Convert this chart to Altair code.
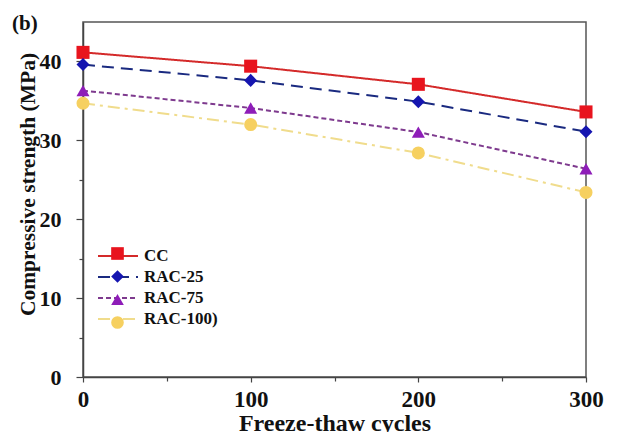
import json
import altair as alt
import pandas as pd

cycles = [0, 100, 200, 300]
series_names = ["CC", "RAC-25", "RAC-75", "RAC-100)"]
cc = [41.15, 39.4, 37.1, 33.6]
rac25 = [39.6, 37.6, 34.9, 31.1]
rac75 = [36.3, 34.1, 31.05, 26.4]
rac100 = [34.7, 32.0, 28.4, 23.4]

line_colors = ["#d42a2a", "#1a2a80", "#7e3a8e", "#f0dc8c"]
marker_colors = ["#e8141e", "#1515b0", "#8e1db8", "#f6d060"]
dashes = [[1, 0], [12, 7], [5, 3], [12, 5, 3, 5]]
shapes = ["square", "diamond", "triangle-up", "circle"]

rows = []
for name, vals in zip(series_names, [cc, rac25, rac75, rac100]):
    for c, v in zip(cycles, vals):
        rows.append({"cycles": c, "strength": v, "series": name, "series_pt": name})
df = pd.DataFrame(rows)

FONT = "Liberation Serif"

x_enc = alt.X(
    "cycles:Q",
    scale=alt.Scale(domain=[0, 300], nice=False),
    axis=alt.Axis(
        values=[0, 50, 100, 150, 200, 250, 300],
        labelExpr="datum.value % 100 === 0 ? datum.label : ''",
        tickSize={"condition": {"test": "datum.value % 100 === 0", "value": 5}, "value": 4},
        title="Freeze-thaw cycles",
        titlePadding=0,
        labelPadding=6,
        labelFontSize=23,
        titleFontSize=24,
        labelFlush=False,
        grid=False,
    ),
)
y_enc = alt.Y(
    "strength:Q",
    scale=alt.Scale(domain=[0, 45], nice=False),
    axis=alt.Axis(
        values=[0, 5, 10, 15, 20, 25, 30, 35, 40],
        labelExpr="datum.value % 10 === 0 ? datum.label : ''",
        tickSize={"condition": {"test": "datum.value % 10 === 0", "value": 7}, "value": 4},
        title="Compressive strength (MPa)",
        titleX=-55,
        titleY=162,
        titleBaseline="middle",
        labelPadding=15,
        labelFontSize=22,
        titleFontSize=21.5,
        labelFlush=False,
        grid=False,
    ),
)

line_legend = alt.Legend(
    title=None,
    orient="none",
    legendX=24,
    legendY=223,
    symbolType="M-2,0H2",
    symbolSize=400,
    symbolStrokeWidth=2,
    labelFont=FONT,
    labelFontSize=17,
    labelFontWeight="bold",
    labelColor="#111",
    labelOffset=15,
    rowPadding=2,
    padding=0,
)

fill_expr = "{}[indexof({}, datum.value)]".format(
    json.dumps(marker_colors), json.dumps(series_names)
)

point_legend = alt.Legend(
    title=None,
    orient="none",
    legendX=26,
    legendY=223,
    symbolSize=160,
    symbolStrokeWidth=0,
    symbolOpacity=1,
    symbolFillColor=alt.ExprRef(fill_expr),
    labelExpr="''",
    labelFont=FONT,
    labelFontSize=17,
    labelOffset=0,
    rowPadding=5,
    padding=0,
)

lines = alt.Chart(df).mark_line(strokeWidth=2).encode(
    x=x_enc,
    y=y_enc,
    stroke=alt.Stroke(
        "series:N",
        scale=alt.Scale(domain=series_names, range=line_colors),
        legend=line_legend,
    ),
    strokeDash=alt.StrokeDash(
        "series:N",
        scale=alt.Scale(domain=series_names, range=dashes),
        legend=line_legend,
    ),
)

points = alt.Chart(df).mark_point(filled=True, opacity=1, size=170).encode(
    x="cycles:Q",
    y="strength:Q",
    color=alt.Color(
        "series_pt:N",
        sort=series_names,
        scale=alt.Scale(range=marker_colors),
        legend=None,
    ),
    shape=alt.Shape(
        "series_pt:N",
        sort=series_names,
        scale=alt.Scale(range=shapes),
        legend=point_legend,
    ),
)

label_df = pd.DataFrame({"t": ["(b)"]})
panel_label = alt.Chart(label_df).mark_text(
    font=FONT, fontSize=21, fontWeight="bold", align="left", baseline="middle", color="#111"
).encode(x=alt.value(-71), y=alt.value(2), text="t:N")

chart = (
    alt.layer(lines, points, panel_label)
    .properties(
        width=503,
        height=355,
        autosize=alt.AutoSizeParams(type="none"),
        padding={"left": 75, "top": 14, "right": 25, "bottom": 55},
    )
    .configure_view(stroke="#555", strokeWidth=1.5)
    .configure_axis(
        labelFont=FONT,
        labelFontWeight="bold",
        labelColor="#111",
        titleFont=FONT,
        titleFontWeight="bold",
        titleColor="#111",
        domainColor="#444",
        domainWidth=1.5,
        tickColor="#444",
        tickWidth=1.2,
    )
)

chart.save("out.html", embed_options={"renderer": "svg", "actions": False})
